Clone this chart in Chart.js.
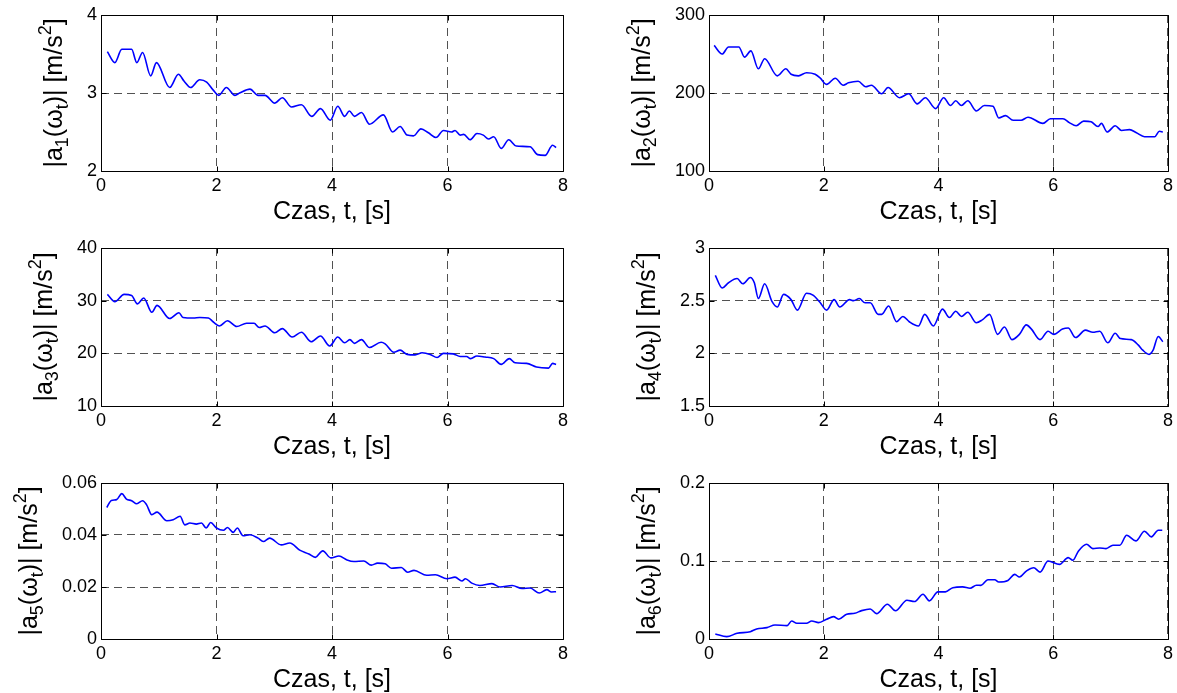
<!DOCTYPE html>
<html>
<head>
<meta charset="utf-8">
<script src="https://cdn.jsdelivr.net/npm/chart.js@4.4.0/dist/chart.umd.min.js"></script>
<style>
  body { margin: 0; background: #fff; }
  #wrap { position: relative; width: 1177px; height: 693px; }
  canvas { position: absolute; }
</style>
</head>
<body>
<div id="wrap">
  <canvas id="c1" width="580" height="231" style="left:0px;top:0px"></canvas>
  <canvas id="c2" width="597" height="231" style="left:580px;top:0px"></canvas>
  <canvas id="c3" width="580" height="231" style="left:0px;top:231px"></canvas>
  <canvas id="c4" width="597" height="231" style="left:580px;top:231px"></canvas>
  <canvas id="c5" width="580" height="231" style="left:0px;top:462px"></canvas>
  <canvas id="c6" width="597" height="231" style="left:580px;top:462px"></canvas>
</div>
<script>
const FONT = '"Liberation Sans", Arial, Helvetica, sans-serif';
const TICK_PX = 18;
const TITLE_PX = 25;

const xTitle = "Czas, t, [s]";
const xTicks = [0, 2, 4, 6, 8];

// |a1(wt)|
const t1 = [0.11, 0.24, 0.36, 0.53, 0.62, 0.72, 0.86, 0.96, 1.19, 1.34, 1.44, 1.55, 1.71, 1.83, 1.94, 2.04, 2.17, 2.32, 2.40, 2.58, 2.72, 2.84, 3.01, 3.14, 3.30, 3.47, 3.65, 3.80, 3.97, 4.10, 4.22, 4.30, 4.39, 4.51, 4.65, 4.89, 5.05, 5.18, 5.30, 5.41, 5.54, 5.67, 5.80, 5.93, 6.07, 6.13, 6.22, 6.28, 6.39, 6.51, 6.62, 6.71, 6.80, 6.93, 7.06, 7.19, 7.43, 7.56, 7.69, 7.82, 7.88];
const a1 = [3.53, 3.39, 3.56, 3.56, 3.39, 3.52, 3.22, 3.39, 3.07, 3.24, 3.15, 3.07, 3.17, 3.14, 3.04, 2.97, 3.07, 2.97, 3.00, 3.05, 2.97, 2.97, 2.87, 2.94, 2.82, 2.85, 2.70, 2.80, 2.65, 2.83, 2.70, 2.77, 2.70, 2.75, 2.60, 2.72, 2.50, 2.57, 2.46, 2.45, 2.54, 2.49, 2.43, 2.52, 2.50, 2.52, 2.46, 2.47, 2.40, 2.48, 2.46, 2.41, 2.44, 2.29, 2.40, 2.32, 2.31, 2.21, 2.20, 2.33, 2.30];
const yTicks1 = [2, 3, 4];

// |a2(wt)|
const t2 = [0.09, 0.23, 0.34, 0.52, 0.62, 0.73, 0.86, 0.97, 1.19, 1.34, 1.43, 1.56, 1.70, 1.85, 1.94, 2.05, 2.20, 2.34, 2.43, 2.60, 2.73, 2.83, 3.01, 3.12, 3.32, 3.48, 3.63, 3.77, 3.95, 4.09, 4.21, 4.30, 4.40, 4.51, 4.66, 4.80, 4.95, 5.05, 5.17, 5.30, 5.44, 5.56, 5.82, 5.95, 6.17, 6.28, 6.40, 6.53, 6.66, 6.78, 6.84, 6.94, 7.08, 7.19, 7.33, 7.45, 7.59, 7.77, 7.85, 7.91];
const a2 = [261, 250, 259, 259, 246, 254, 231, 244, 222, 231, 224, 222, 226, 224, 219, 211, 219, 210, 213, 215, 208, 210, 199, 207, 194, 199, 186, 194, 180, 194, 184, 190, 184, 190, 177, 184, 183, 168, 171, 165, 165, 169, 161, 167, 167, 162, 158, 164, 163, 157, 161, 150, 158, 152, 153, 149, 144, 144, 151, 150];
const yTicks2 = [100, 200, 300];

// |a3(wt)|
const t3 = [0.11, 0.24, 0.40, 0.53, 0.63, 0.74, 0.88, 0.97, 1.19, 1.35, 1.42, 1.60, 1.71, 1.86, 1.94, 2.05, 2.19, 2.35, 2.52, 2.65, 2.74, 2.84, 3.01, 3.14, 3.31, 3.47, 3.64, 3.80, 3.96, 4.10, 4.22, 4.31, 4.39, 4.51, 4.65, 4.85, 4.92, 5.07, 5.18, 5.30, 5.44, 5.56, 5.70, 5.82, 5.93, 6.10, 6.22, 6.33, 6.40, 6.51, 6.65, 6.80, 6.93, 7.07, 7.17, 7.37, 7.54, 7.75, 7.82, 7.88];
const a3 = [31.2, 29.8, 31.2, 31.0, 29.4, 30.5, 27.8, 29.1, 26.6, 27.7, 26.8, 26.7, 26.8, 26.7, 26.0, 25.2, 26.2, 25.1, 25.7, 25.7, 24.9, 25.2, 23.9, 24.7, 23.1, 24.0, 22.2, 23.3, 21.4, 23.1, 22.0, 22.6, 21.9, 22.6, 21.1, 22.1, 21.8, 20.2, 20.6, 19.8, 19.7, 20.1, 19.8, 19.2, 20.0, 19.9, 19.4, 19.4, 19.0, 19.5, 19.3, 19.0, 17.9, 19.0, 18.2, 18.1, 17.4, 17.2, 18.1, 17.9];
const yTicks3 = [10, 20, 30, 40];

// |a4(wt)|
const t4 = [0.11, 0.23, 0.34, 0.49, 0.59, 0.72, 0.79, 0.86, 0.97, 1.10, 1.19, 1.30, 1.43, 1.54, 1.70, 1.82, 1.94, 2.05, 2.18, 2.28, 2.45, 2.52, 2.62, 2.72, 2.81, 2.95, 3.01, 3.13, 3.27, 3.38, 3.49, 3.65, 3.76, 3.91, 4.07, 4.19, 4.30, 4.40, 4.51, 4.66, 4.77, 4.89, 5.03, 5.15, 5.28, 5.41, 5.53, 5.62, 5.77, 5.91, 6.01, 6.16, 6.26, 6.39, 6.56, 6.69, 6.81, 6.95, 7.08, 7.17, 7.36, 7.48, 7.56, 7.67, 7.74, 7.83, 7.91];
const a4 = [2.74, 2.62, 2.67, 2.71, 2.66, 2.72, 2.67, 2.52, 2.66, 2.49, 2.44, 2.56, 2.51, 2.41, 2.57, 2.55, 2.48, 2.41, 2.51, 2.44, 2.51, 2.50, 2.52, 2.48, 2.48, 2.37, 2.37, 2.45, 2.30, 2.35, 2.30, 2.26, 2.37, 2.26, 2.42, 2.34, 2.40, 2.35, 2.39, 2.29, 2.32, 2.37, 2.18, 2.25, 2.13, 2.18, 2.27, 2.23, 2.13, 2.21, 2.18, 2.23, 2.24, 2.15, 2.22, 2.20, 2.21, 2.10, 2.19, 2.14, 2.13, 2.08, 2.03, 1.99, 2.03, 2.16, 2.11];
const yTicks4 = [1.5, 2, 2.5, 3];

// |a5(wt)|
const t5 = [0.10, 0.18, 0.27, 0.36, 0.44, 0.53, 0.62, 0.72, 0.79, 0.88, 0.97, 1.14, 1.25, 1.37, 1.45, 1.54, 1.65, 1.74, 1.82, 1.90, 2.00, 2.12, 2.19, 2.29, 2.36, 2.46, 2.58, 2.72, 2.81, 2.92, 3.12, 3.27, 3.44, 3.60, 3.71, 3.84, 3.98, 4.12, 4.26, 4.38, 4.55, 4.68, 4.79, 4.92, 5.03, 5.20, 5.31, 5.42, 5.64, 5.79, 5.99, 6.13, 6.25, 6.31, 6.42, 6.56, 6.77, 6.91, 7.12, 7.29, 7.43, 7.59, 7.72, 7.80, 7.88];
const a5 = [0.0506, 0.0533, 0.0536, 0.0559, 0.0538, 0.0532, 0.0520, 0.0532, 0.0516, 0.0478, 0.0488, 0.0455, 0.0459, 0.0472, 0.0439, 0.0446, 0.0442, 0.0446, 0.0427, 0.0448, 0.0427, 0.0418, 0.0429, 0.0410, 0.0427, 0.0397, 0.0401, 0.0388, 0.0375, 0.0388, 0.0362, 0.0369, 0.0342, 0.0327, 0.0314, 0.0339, 0.0312, 0.0319, 0.0304, 0.0298, 0.0300, 0.0284, 0.0292, 0.0289, 0.0272, 0.0275, 0.0257, 0.0264, 0.0245, 0.0247, 0.0232, 0.0238, 0.0223, 0.0232, 0.0215, 0.0206, 0.0213, 0.0200, 0.0206, 0.0194, 0.0196, 0.0177, 0.0190, 0.0181, 0.0182];
const yTicks5 = [0, 0.02, 0.04, 0.06];

// |a6(wt)|
const t6 = [0.11, 0.31, 0.49, 0.72, 0.83, 1.01, 1.15, 1.36, 1.44, 1.53, 1.70, 1.79, 1.91, 2.05, 2.17, 2.26, 2.40, 2.54, 2.66, 2.81, 2.92, 3.11, 3.25, 3.45, 3.58, 3.73, 3.84, 3.99, 4.12, 4.25, 4.42, 4.55, 4.66, 4.74, 4.86, 4.98, 5.05, 5.21, 5.33, 5.41, 5.53, 5.66, 5.77, 5.91, 6.11, 6.26, 6.34, 6.44, 6.58, 6.69, 6.81, 6.92, 7.04, 7.16, 7.28, 7.44, 7.59, 7.71, 7.83, 7.90];
const a6 = [0.0064, 0.0030, 0.0073, 0.0094, 0.0128, 0.0146, 0.0180, 0.0171, 0.0231, 0.0201, 0.0201, 0.0231, 0.0210, 0.0253, 0.0287, 0.0253, 0.0317, 0.0330, 0.0364, 0.0385, 0.0325, 0.0446, 0.0362, 0.0497, 0.0480, 0.0574, 0.0489, 0.0604, 0.0604, 0.0658, 0.0668, 0.0650, 0.0690, 0.0687, 0.0760, 0.0760, 0.0730, 0.0751, 0.0828, 0.0794, 0.0871, 0.0914, 0.0858, 0.1000, 0.0957, 0.1043, 0.1009, 0.1129, 0.1215, 0.1159, 0.1167, 0.1159, 0.1202, 0.1202, 0.1330, 0.1258, 0.1382, 0.1309, 0.1395, 0.1395];
const yTicks6 = [0, 0.1, 0.2];

// y axis label drawn by hand: |a_n(ω_t)| [m/s^2]
const yTitlePlugin = {
  id: "yTitle",
  afterDraw(chart, args, opts) {
    const ctx = chart.ctx;
    const area = chart.chartArea;
    const yScale = chart.scales.y;
    ctx.save();
    ctx.font = TICK_PX + "px " + FONT;
    let lw = 0;
    yScale.ticks.forEach(function (t) {
      lw = Math.max(lw, ctx.measureText(String(t.label)).width);
    });
    const bx = area.left - 4 - lw - 25;
    const cy = (area.top + area.bottom) / 2;
    const parts = [
      ["|a", 0], [opts.idx, 1], ["(\u03c9", 0], ["t", 1],
      [")| [m/s", 0], ["2", 2], ["]", 0]
    ];
    const small = Math.round(TITLE_PX * 0.72);
    function fontFor(kind) {
      return (kind === 0 ? TITLE_PX : small) + "px " + FONT;
    }
    let total = 0;
    parts.forEach(function (p) {
      ctx.font = fontFor(p[1]);
      total += ctx.measureText(p[0]).width;
    });
    ctx.translate(bx, cy);
    ctx.rotate(-Math.PI / 2);
    ctx.fillStyle = "#000";
    ctx.textBaseline = "alphabetic";
    ctx.textAlign = "left";
    let x = -total / 2;
    parts.forEach(function (p) {
      ctx.font = fontFor(p[1]);
      let dy = 0;
      if (p[1] === 1) dy = TITLE_PX * 0.24;
      if (p[1] === 2) dy = -TITLE_PX * 0.44;
      ctx.fillText(p[0], x, dy);
      x += ctx.measureText(p[0]).width;
    });
    ctx.restore();
  }
};

// full box with inward ticks, like MATLAB axes
const framePlugin = {
  id: "frame",
  afterDraw(chart) {
    const ctx = chart.ctx;
    const a = chart.chartArea;
    const l = Math.round(a.left) + 0.5;
    const r = Math.round(a.right) + 0.5;
    const t = Math.round(a.top) + 0.5;
    const b = Math.round(a.bottom) + 0.5;
    ctx.save();
    ctx.strokeStyle = "#000";
    ctx.lineWidth = 1;
    ctx.beginPath();
    ctx.rect(l, t, r - l, b - t);
    chart.scales.x.ticks.forEach(function (tk) {
      const px = Math.round(chart.scales.x.getPixelForValue(tk.value)) + 0.5;
      ctx.moveTo(px, b); ctx.lineTo(px, b - 5);
      ctx.moveTo(px, t); ctx.lineTo(px, t + 5);
    });
    chart.scales.y.ticks.forEach(function (tk) {
      const py = Math.round(chart.scales.y.getPixelForValue(tk.value)) + 0.5;
      ctx.moveTo(l, py); ctx.lineTo(l + 5, py);
      ctx.moveTo(r, py); ctx.lineTo(r - 5, py);
    });
    ctx.stroke();
    ctx.restore();
  }
};

function makeChart(id, t, a, yTicks, idx, plotLeft, padRight, padTop, plotH) {
  const canvas = document.getElementById(id);
  const xH = 56;
  const padBottom = canvas.height - padTop - plotH - xH;
  const points = t.map(function (v, i) { return { x: v, y: a[i] }; });
  return new Chart(canvas.getContext("2d"), {
    type: "line",
    data: {
      datasets: [{
        data: points,
        borderColor: "#0000ff",
        borderWidth: 1.6,
        pointRadius: 0,
        fill: false,
        cubicInterpolationMode: "monotone"
      }]
    },
    options: {
      responsive: false,
      animation: false,
      events: [],
      layout: { padding: { left: 0, right: padRight, top: padTop, bottom: padBottom } },
      plugins: {
        legend: { display: false },
        tooltip: { enabled: false },
        yTitle: { idx: idx }
      },
      scales: {
        x: {
          type: "linear",
          min: xTicks[0],
          max: xTicks[xTicks.length - 1],
          afterBuildTicks: function (s) { s.ticks = xTicks.map(function (v) { return { value: v }; }); },
          afterFit: function (s) { s.height = xH; },
          ticks: {
            autoSkip: false, maxRotation: 0, minRotation: 0, padding: 4,
            color: "#000", font: { family: FONT, size: TICK_PX },
            callback: function (v) { return String(v); }
          },
          grid: { color: "rgba(0,0,0,0.68)", lineWidth: 1, drawTicks: false },
          border: { display: false, dash: [8, 5] },
          title: { display: true, text: xTitle, color: "#000", padding: 0, font: { family: FONT, size: TITLE_PX } }
        },
        y: {
          type: "linear",
          min: yTicks[0],
          max: yTicks[yTicks.length - 1],
          afterBuildTicks: function (s) { s.ticks = yTicks.map(function (v) { return { value: v }; }); },
          afterFit: function (s) { s.width = plotLeft; },
          ticks: {
            autoSkip: false, padding: 4,
            color: "#000", font: { family: FONT, size: TICK_PX },
            callback: function (v) { return String(Math.round(v * 1000) / 1000); }
          },
          grid: { color: "rgba(0,0,0,0.68)", lineWidth: 1, drawTicks: false },
          border: { display: false, dash: [8, 5] }
        }
      }
    },
    plugins: [yTitlePlugin, framePlugin]
  });
}

makeChart("c1", t1, a1, yTicks1, "1", 101, 17, 15, 156);
makeChart("c2", t2, a2, yTicks2, "2", 129, 8, 15, 156);
makeChart("c3", t3, a3, yTicks3, "3", 101, 17, 17, 158);
makeChart("c4", t4, a4, yTicks4, "4", 129, 8, 17, 158);
makeChart("c5", t5, a5, yTicks5, "5", 101, 17, 21, 156);
makeChart("c6", t6, a6, yTicks6, "6", 129, 8, 21, 156);
</script>
</body>
</html>
